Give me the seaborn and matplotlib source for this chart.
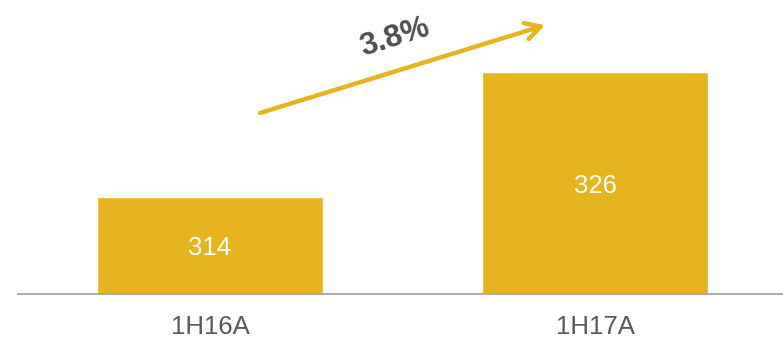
import matplotlib
matplotlib.use("Agg")
import matplotlib.pyplot as plt
import seaborn as sns
import pandas as pd

categories = ["1H16A", "1H17A"]
values = [314, 326]
growth_label = "3.8%"

GOLD = "#E6B41E"
sns.set_theme(style="white")
plt.rcParams["font.family"] = ["Liberation Sans", "DejaVu Sans"]

df = pd.DataFrame({"period": categories, "value": values})

fig = plt.figure(figsize=(7.83, 3.38), dpi=100)
ax = fig.add_axes([18 / 783, 44 / 338, 1 - 18 / 783, 1 - 44 / 338])

sns.barplot(data=df, x="period", y="value", color=GOLD, saturation=1,
            width=0.587, ax=ax)

y0, y1 = 304.64, 332.93
ax.set_xlim(-0.4987, 1.488)
ax.set_ylim(y0, y1)

for i, v in enumerate(values):
    ax.text(i, (v + y0) / 2 - 0.3, str(v), ha="center", va="center",
            color="white", fontsize=18.5)

ax.annotate("", xy=(0.870, 330.5), xytext=(0.130, 322.06),
            arrowprops=dict(arrowstyle="->,head_length=0.9,head_width=0.5",
                            lw=3.2, color=GOLD, shrinkA=0, shrinkB=0,
                            capstyle="round", joinstyle="round"))
ax.text(0.4805, 329.3, growth_label, ha="center", va="center", rotation=17.5,
        fontsize=22.5, fontweight="bold", color="#4D4F53")

for s in ["top", "left", "right"]:
    ax.spines[s].set_visible(False)
ax.spines["bottom"].set_color("#A6A6A6")
ax.spines["bottom"].set_linewidth(1.3)
ax.set_yticks([])
ax.set_xlabel("")
ax.set_ylabel("")
ax.tick_params(axis="x", length=0, pad=15, labelsize=18.5, labelcolor="#595959")

fig.savefig("out.png", dpi=100)
